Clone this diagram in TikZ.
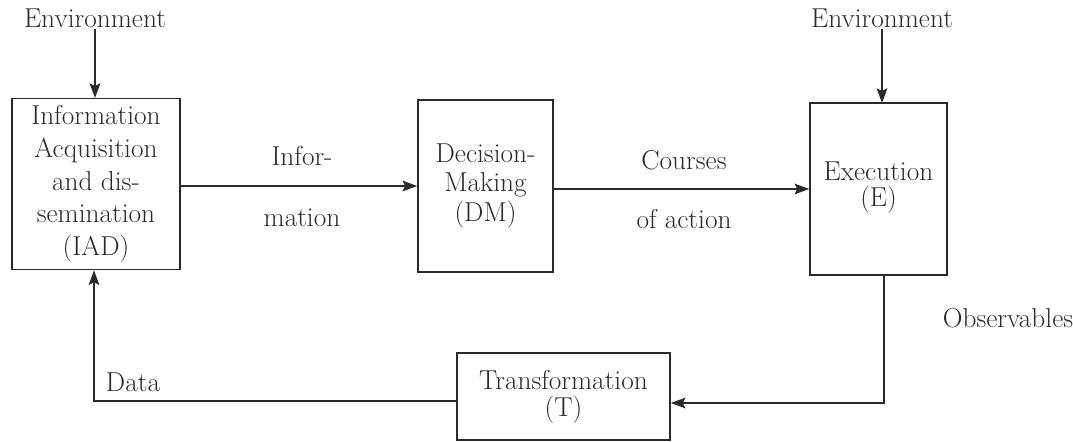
\documentclass[tikz,border=0pt]{standalone}
\usetikzlibrary{arrows.meta}
\definecolor{ink}{HTML}{2a2a2a}
\begin{document}
\begin{tikzpicture}[x=0.75pt,y=-0.75pt,
  every node/.style={font=\fontsize{20.5}{24.5}\selectfont, text=ink},
  blk/.style={draw=ink, line width=1.2pt, align=center, inner sep=0pt},
  lbl/.style={inner sep=1pt},
  conn/.style={draw=ink, line width=1.2pt, -{Stealth[length=11pt,width=8pt,inset=2pt]}},
  plain/.style={draw=ink, line width=1.2pt}]
\useasboundingbox (0,0) rectangle (1073,442);
% blocks
\node[blk, minimum width=126pt, minimum height=128.25pt] (IAD) at (96,184)
  {Information\\Acquisition\\and dis-\\semination\\(IAD)};
\node[blk, minimum width=101.25pt, minimum height=129pt] (DM) at (485.5,186)
  {Decision-\\[-2.5pt]Making\\[-2.5pt](DM)};
\node[blk, minimum width=102.75pt, minimum height=129pt] (E) at (878.5,189)
  {Execution\\[-5pt](E)\\[-18pt]\mbox{}};
\node[blk, minimum width=159.75pt, minimum height=65.25pt] (T) at (563.5,396.5)
  {Transformation\\[-4pt](T)};
% environment labels
\node[lbl] (env1) at (95,18) {Environment};
\node[lbl] (env2) at (882,18) {Environment};
\coordinate (e1) at (95,98);
\coordinate (e2) at (882,103);
\draw[conn] (env1.south) -- (e1);
\draw[conn] (env2.south) -- (e2);
% forward arrows
\draw[conn] (DM.west -| IAD.east) -- (DM.west);
\draw[conn] (E.west -| DM.east) -- (E.west);
% labels
\node[lbl] (l1) at (302,156) {Infor-};
\node[lbl] (l2) at (302,218) {mation};
\node[lbl] (l3) at (684,160) {Courses};
\node[lbl] (l4) at (684,219) {of action};
\node[lbl] (l5) at (1008,318) {Observables};
\node[lbl] (l6) at (133,382) {Data};
% feedback
\coordinate (c1) at (884,403);
\draw[conn] (E.south -| c1) -- (c1) -- (T.east |- c1);
\coordinate (c2) at (94,401);
\draw[conn] (T.west |- c2) -- (c2) -- (IAD.south -| c2);
\end{tikzpicture}
\end{document}
